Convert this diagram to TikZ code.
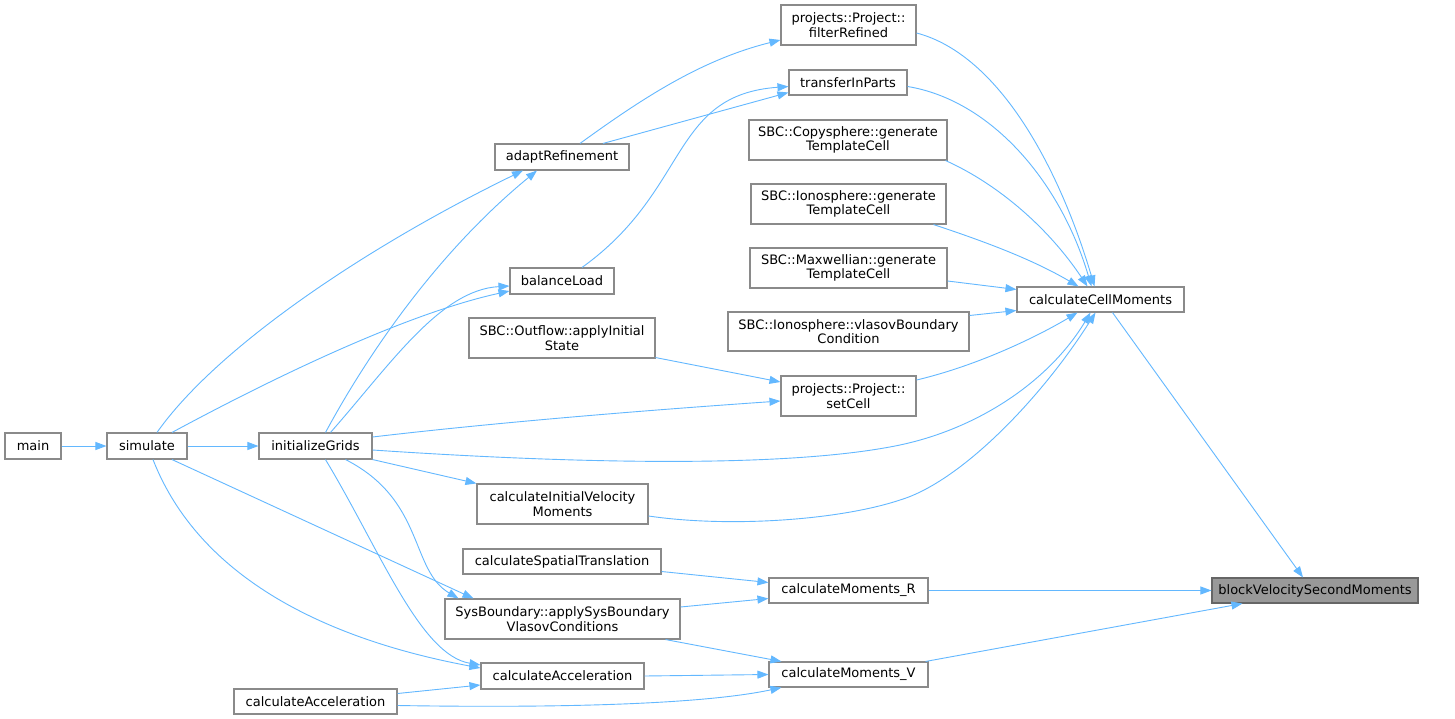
\documentclass[tikz,border=0pt]{standalone}
\usepackage{fontspec}
\newfontfamily\dvs{DejaVu Sans}
\usetikzlibrary{arrows.meta,calc}
\definecolor{edgec}{HTML}{63B8FF}
\definecolor{nodeb}{HTML}{8A8A8A}
\definecolor{hlb}{HTML}{666666}
\definecolor{hilite}{HTML}{999999}
\begin{document}
\begin{tikzpicture}[x=1pt,y=-1pt,
  fn/.style={draw=nodeb, fill=white, line width=1.1pt, inner sep=0pt, align=center,
             font=\dvs\fontsize{13}{14.5}\selectfont},
  hl/.style={fn, draw=hlb, fill=hilite},
  call/.style={draw=edgec, line width=0.9pt, -{Triangle[length=11pt,width=8pt]}}]
\fill[white] (0,0) rectangle (1455,719);
\useasboundingbox (0,0) rectangle (1455,719);

% nodes
\node[fn, minimum width=56, minimum height=26] (main) at (33,446) {main};
\node[fn, minimum width=80, minimum height=26] (simulate) at (147,446) {simulate};
\node[fn, minimum width=113, minimum height=26] (initializeGrids) at (315.5,446) {initializeGrids};
\node[fn, minimum width=134, minimum height=26] (adaptRefinement) at (562,157) {adaptRefinement};
\node[fn, minimum width=104, minimum height=26] (balanceLoad) at (562,281) {balanceLoad};
\node[fn, minimum width=186, minimum height=40] (outflow) at (562,338) {SBC::Outflow::applyInitial\\State};
\node[fn, minimum width=135, minimum height=40] (filterRefined) at (848.5,25) {projects::Project::\\filterRefined};
\node[fn, minimum width=118, minimum height=25] (transferInParts) at (848,82.5) {transferInParts};
\node[fn, minimum width=198, minimum height=40] (copysphere) at (848,140) {SBC::Copysphere::generate\\TemplateCell};
\node[fn, minimum width=195, minimum height=40] (ionogen) at (848.5,204) {SBC::Ionosphere::generate\\TemplateCell};
\node[fn, minimum width=197, minimum height=40] (maxwellian) at (848.5,268) {SBC::Maxwellian::generate\\TemplateCell};
\node[fn, minimum width=241, minimum height=39] (vlasovbc) at (848.5,331.5) {SBC::Ionosphere::vlasovBoundary\\Condition};
\node[fn, minimum width=135, minimum height=40] (setCell) at (848.5,396) {projects::Project::\\setCell};
\node[fn, minimum width=167, minimum height=25] (cCM) at (1100.5,299.5) {calculateCellMoments};
\node[fn, minimum width=171, minimum height=40] (cIVM) at (562.5,504) {calculateInitialVelocity\\Moments};
\node[fn, minimum width=198, minimum height=25] (cST) at (562,561.5) {calculateSpatialTranslation};
\node[fn, minimum width=235, minimum height=40] (sysB) at (562.5,619) {SysBoundary::applySysBoundary\\VlasovConditions};
\node[fn, minimum width=163, minimum height=26] (cAccMid) at (562.5,676) {calculateAcceleration};
\node[fn, minimum width=163, minimum height=25] (cAccLeft) at (315.5,701.5) {calculateAcceleration};
\node[fn, minimum width=159, minimum height=25] (cMR) at (848.5,590.5) {calculateMoments\_R};
\node[fn, minimum width=159, minimum height=25] (cMV) at (848.5,674.5) {calculateMoments\_V};
\node[hl, minimum width=206, minimum height=25] (bVSM) at (1315,590.5) {blockVelocitySecondMoments};

% edges
\draw[call] (main.east) -- (simulate.west);
\draw[call] (simulate.east) -- (initializeGrids.west);
\draw[call] ($(simulate.north)+(10,0)$) .. controls (215,350) and (360,250) .. ($(adaptRefinement.south)+(-39,0)$);
\draw[call] ($(initializeGrids.north)+(10,0)$) .. controls (370,350) and (440,250) .. ($(adaptRefinement.south)+(-25,0)$);
\draw[call] ($(simulate.north)+(25,0)$) .. controls (260,385) and (400,315) .. ($(balanceLoad.west)+(0,10)$);
\draw[call] ($(initializeGrids.north)+(15,0)$) .. controls (390,365) and (440,290) .. ($(balanceLoad.west)+(0,5)$);
\draw[call] ($(adaptRefinement.north)+(18,0)$) .. controls (640,100) and (700,60) .. ($(filterRefined.west)+(0,15)$);
\draw[call] ($(adaptRefinement.north)+(41,0)$) -- ($(transferInParts.west)+(0,10)$);
\draw[call] ($(balanceLoad.north)+(20,0)$) .. controls (690,190) and (670,95) .. ($(transferInParts.west)+(0,4)$);
\draw[call] ($(filterRefined.east)+(0,8)$) .. controls (1000,55) and (1060,170) .. ($(cCM.north)+(-6,0)$);
\draw[call] ($(transferInParts.east)+(0,4)$) .. controls (990,100) and (1060,180) .. ($(cCM.north)+(-9,0)$);
\draw[call] ($(copysphere.south east)+(-2,0)$) .. controls (1000,185) and (1050,230) .. ($(cCM.north)+(-13,0)$);
\draw[call] ($(ionogen.south east)+(-13,0)$) .. controls (980,240) and (1030,258) .. ($(cCM.north)+(-22,0)$);
\draw[call] ($(maxwellian.east)+(0,13)$) -- ($(cCM.west)+(0,-10)$);
\draw[call] ($(vlasovbc.east)+(0,-16)$) -- ($(cCM.west)+(0,11)$);
\draw[call] ($(setCell.east)+(0,-16)$) .. controls (980,365) and (1040,335) .. ($(cCM.south)+(-23,0)$);
\draw[call] ($(initializeGrids.east)+(0,4)$) .. controls (550,462) and (780,470) .. (900,445) .. controls (980,428) and (1050,380) .. ($(cCM.south)+(-10,0)$);
\draw[call] ($(cIVM.east)+(0,12)$) .. controls (730,528) and (840,520) .. (900,500) .. controls (960,482) and (1040,400) .. ($(cCM.south)+(-5,0)$);
\draw[call] ($(outflow.south east)+(0,-1)$) -- ($(setCell.west)+(0,-14)$);
\draw[call] ($(initializeGrids.east)+(0,-9)$) .. controls (500,422) and (650,410) .. ($(setCell.west)+(0,5)$);
\draw[call] (initializeGrids.south east) -- (cIVM.north west);
\draw[call] ($(initializeGrids.south)+(30,0)$) .. controls (425,500) and (410,570) .. ($(sysB.north)+(-104,0)$);
\draw[call] ($(simulate.south)+(25,0)$) -- ($(sysB.north)+(-89,0)$);
\draw[call] ($(initializeGrids.south)+(10,0)$) .. controls (380,550) and (420,655) .. ($(cAccMid.west)+(0,-11)$);
\draw[call] ($(simulate.south)+(6,0)$) .. controls (200,580) and (330,640) .. ($(cAccMid.west)+(0,-8)$);
\draw[call] ($(cAccLeft.east)+(0,-8)$) -- ($(cAccMid.west)+(0,9)$);
\draw[call] ($(cAccLeft.east)+(0,4)$) .. controls (550,708) and (700,705) .. ($(cMV.south west)+(13,0)$);
\draw[call] ($(cST.east)+(0,10)$) -- ($(cMR.west)+(0,-8)$);
\draw[call] ($(sysB.east)+(0,-12)$) -- ($(cMR.west)+(0,8)$);
\draw[call] ($(sysB.south east)+(-15,0)$) -- ($(cMV.north west)+(13,0)$);
\draw[call] (cAccMid.east) -- (cMV.west);
\draw[call] (cMR.east) -- (bVSM.west);
\draw[call] ($(cMV.north east)+(-3,0)$) -- ($(bVSM.south west)+(31,0)$);
\draw[call] ($(cCM.south)+(12,0)$) -- ($(bVSM.north)+(-12,0)$);
\end{tikzpicture}
\end{document}
